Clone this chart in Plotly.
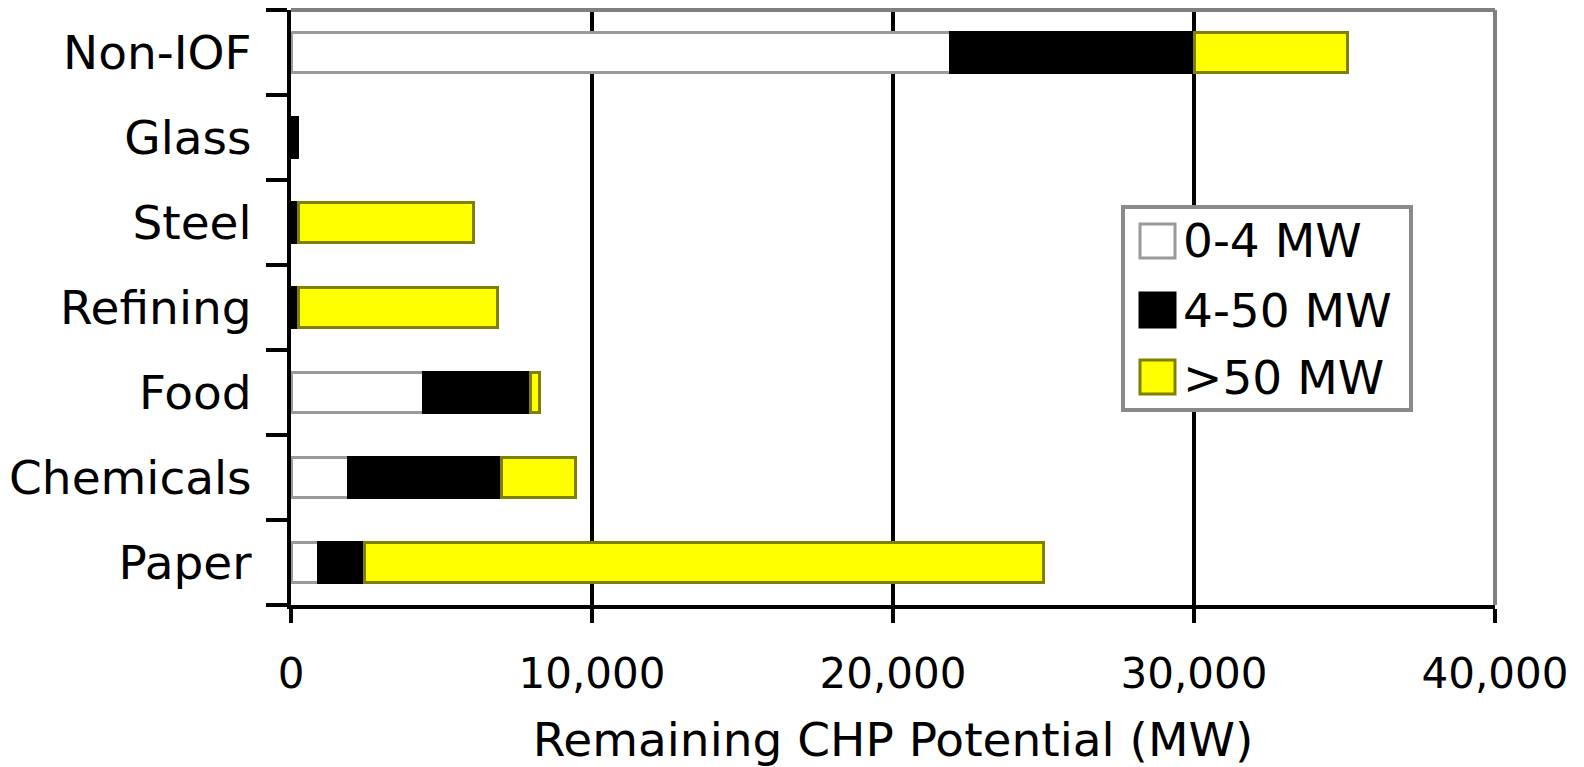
import plotly.graph_objects as go

# ---- data ----
categories = ["Paper", "Chemicals", "Food", "Refining", "Steel", "Glass", "Non-IOF"]
series_names = ["0-4 MW", "4-50 MW", ">50 MW"]
small_mw = [900, 1900, 4400, None, None, None, 21900]
mid_mw = [1550, 5100, 3550, 250, 250, 200, 8100]
large_mw = [22550, 2450, 300, 6600, 5800, None, 5100]
x_tick_vals = [0, 10000, 20000, 30000, 40000]
x_tick_text = ["0", "10,000", "20,000", "30,000", "40,000"]
x_title = "Remaining CHP Potential (MW)"

fill_colors = ["#ffffff", "#000000", "#ffff00"]
line_colors = ["#9a9a9a", "#000000", "#808000"]

# page is 1584x767; the html body has an 8px margin
OFF = 8
W, H = 1584 - 2 * OFF, 767 - OFF
PLOT_LEFT, PLOT_RIGHT, PLOT_TOP, PLOT_BOTTOM = 291, 1495, 10, 605  # page pixels
L = PLOT_LEFT - OFF
T = PLOT_TOP - OFF
R = W - (PLOT_RIGHT - OFF)
B = H - (PLOT_BOTTOM - OFF)
PW, PH = PLOT_RIGHT - PLOT_LEFT, PLOT_BOTTOM - PLOT_TOP

def px_x(x):
    return (x - PLOT_LEFT) / PW

def px_y(y):
    return (PLOT_BOTTOM - y) / PH

FONT = "DejaVu Sans"

fig = go.Figure()
for name, vals, fc, lc in zip(series_names, [small_mw, mid_mw, large_mw], fill_colors, line_colors):
    fig.add_trace(go.Bar(
        y=categories, x=vals, name=name, orientation="h",
        marker=dict(color=fc, line=dict(color=lc, width=3)),
        showlegend=False,
    ))

fig.update_layout(
    width=W, height=H,
    barmode="stack", bargap=0.53,
    margin=dict(l=L, r=R, t=T, b=B, pad=0),
    paper_bgcolor="white", plot_bgcolor="white",
    font=dict(family=FONT, size=44, color="black"),
)

fig.update_xaxes(
    range=[0, 40000], tickvals=x_tick_vals, ticktext=x_tick_text,
    showgrid=True, gridcolor="black", gridwidth=4,
    zeroline=False, showline=True, linecolor="black", linewidth=4,
    ticks="outside", ticklen=14, tickwidth=4, tickcolor="black",
    ticklabelstandoff=15, automargin=False,
    tickfont=dict(family=FONT, size=42),
    title=dict(text=x_title, standoff=28, font=dict(family=FONT, size=47)),
)
fig.update_yaxes(
    categoryorder="array", categoryarray=categories,
    tickson="boundaries", ticks="outside", ticklen=21, tickwidth=4, tickcolor="black",
    showline=True, linecolor="black", linewidth=4, showgrid=False,
    ticklabelstandoff=26, automargin=False,
    tickfont=dict(family=FONT, size=47),
)

# top and right frame (gray)
fig.add_shape(type="line", xref="paper", yref="paper", x0=0, x1=1, y0=1, y1=1,
              line=dict(color="#808080", width=4), layer="above")
fig.add_shape(type="line", xref="paper", yref="paper", x0=1, x1=1, y0=0, y1=1,
              line=dict(color="#808080", width=4), layer="above")

# legend box
fig.add_shape(type="rect", xref="paper", yref="paper",
              x0=px_x(1123), x1=px_x(1411), y0=px_y(410), y1=px_y(207),
              line=dict(color="#8a8a8a", width=4), fillcolor="white", layer="above")
row_centers = [241, 310, 377]
for name, fc, lc, cy in zip(series_names, fill_colors, line_colors, row_centers):
    fig.add_shape(type="rect", xref="paper", yref="paper",
                  x0=px_x(1140), x1=px_x(1175), y0=px_y(cy + 17), y1=px_y(cy - 17),
                  line=dict(color=lc, width=3),
                  fillcolor=fc, layer="above")
    fig.add_annotation(xref="paper", yref="paper", x=px_x(1181), y=px_y(cy),
                       text=name, showarrow=False, xanchor="left", yanchor="middle",
                       font=dict(family=FONT, size=47, color="black"))

fig.write_html("out.html")
